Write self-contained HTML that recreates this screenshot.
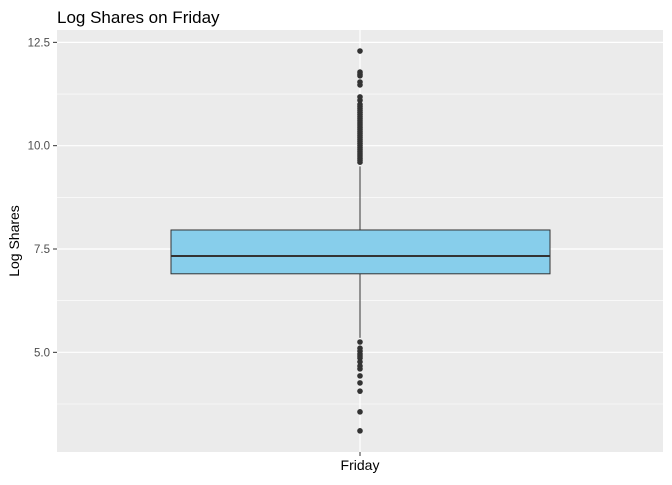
<!DOCTYPE html>
<html><head><meta charset="utf-8"><style>
body{margin:0;background:#fff;font-family:"Liberation Sans",Arial,sans-serif}
</style></head><body>
<svg width="672" height="480" xmlns="http://www.w3.org/2000/svg">
<text x="57" y="23" font-size="17" fill="#000">Log Shares on Friday</text>
<rect x="57" y="30" width="606" height="422" fill="#ebebeb"/>
<g id="grid"></g>
<g id="marks"></g>
<g id="axes"></g>
<text x="360" y="470" font-size="14" text-anchor="middle" fill="#000">Friday</text>
<text transform="translate(19,241) rotate(-90)" font-size="14" text-anchor="middle" fill="#000">Log Shares</text>
</svg>
<script>
const categories=["Friday"];
const q1=[6.9], median=[7.33], q3=[7.96], whiskerLow=[5.35], whiskerHigh=[9.5];
const outliers=[12.29,11.78,11.73,11.69,11.54,11.47,11.18,11.1,11.0,10.95,10.9,10.85,10.8,10.75,10.7,10.65,10.6,10.55,10.5,10.45,10.4,10.35,10.3,10.25,10.2,10.15,10.1,10.05,10.0,9.95,9.9,9.85,9.8,9.75,9.7,9.65,9.6,5.25,5.1,5.03,4.96,4.91,4.86,4.77,4.67,4.6,4.43,4.26,4.06,3.56,3.1];
const yTicks=[5.0,7.5,10.0,12.5];
const NS="http://www.w3.org/2000/svg";
const y=v=>249-(v-7.5)*41.33;
const x=i=>360;
function mk(t,a,p){const e=document.createElementNS(NS,t);for(const k in a)e.setAttribute(k,a[k]);document.getElementById(p).appendChild(e);return e;}
// minor grid
for(let i=0;i<yTicks.length+1;i++){const v=3.75+i*2.5;const g=mk('line',{x1:57,x2:663,y1:y(v),y2:y(v),stroke:'#fff','stroke-width':0.6},'grid');

}
yTicks.forEach(v=>{const g=mk('line',{x1:57,x2:663,y1:y(v),y2:y(v),stroke:'#fff','stroke-width':1.2},'grid');


const tk=mk('line',{x1:53,x2:57,y1:y(v),y2:y(v),stroke:'#333'},'axes');


const t=mk('text',{x:50,y:y(v)+4,'font-size':11.5,'text-anchor':'end',fill:'#4d4d4d'},'axes');t.textContent=v.toFixed(1);

});
categories.forEach((c,i)=>{const gx=mk('line',{x1:x(i),x2:x(i),y1:30,y2:452,stroke:'#fff','stroke-width':1.2},'grid');


const xt=mk('line',{x1:x(i),x2:x(i),y1:452,y2:456,stroke:'#333'},'axes');


const w1=mk('line',{x1:x(i),x2:x(i),y1:y(q3[i]),y2:y(whiskerHigh[i]),stroke:'#333'},'marks');


const w2=mk('line',{x1:x(i),x2:x(i),y1:y(q1[i]),y2:y(whiskerLow[i]),stroke:'#333'},'marks');


const b=mk('rect',{x:171,width:379,y:y(q3[i]),height:y(q1[i])-y(q3[i]),fill:'#87ceeb',stroke:'#333'},'marks');


const m=mk('line',{x1:171,x2:550,y1:y(median[i]),y2:y(median[i]),stroke:'#333','stroke-width':2},'marks');


outliers.forEach(v=>{const p=mk('circle',{cx:x(i),cy:y(v),r:2.8,fill:'#333'},'marks');

});});
</script>
</body></html>
